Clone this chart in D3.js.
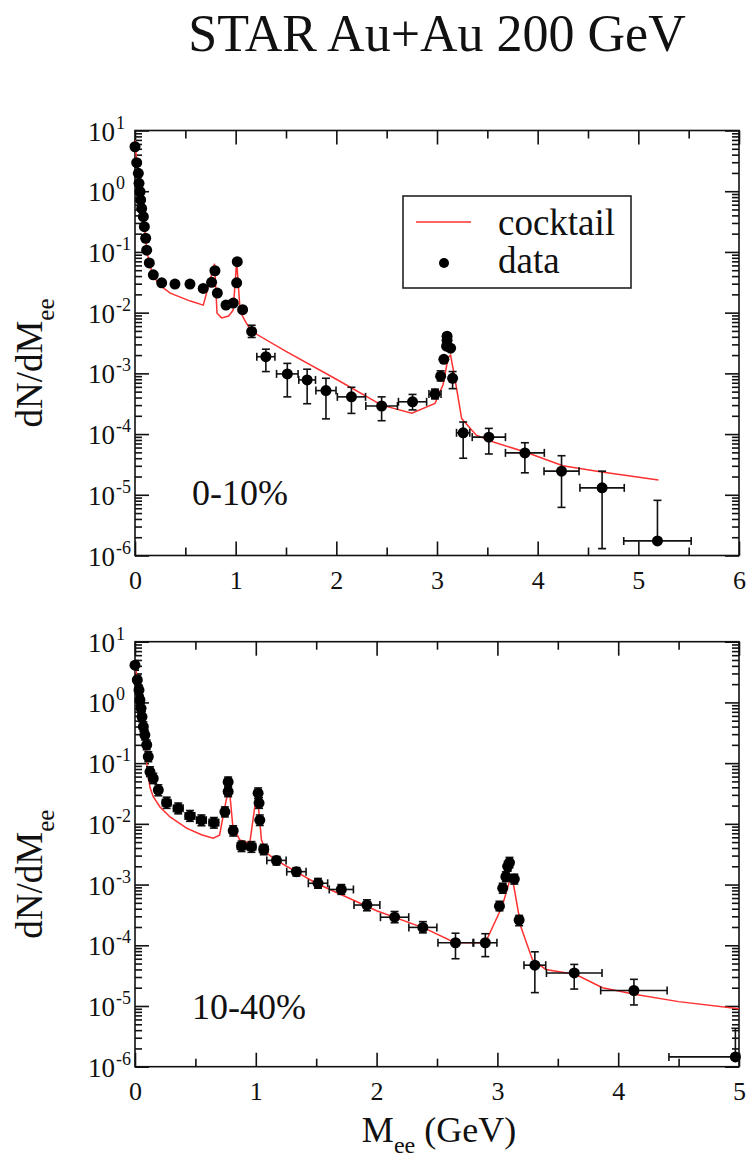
<!DOCTYPE html>
<html>
<head>
<meta charset="utf-8">
<script src="https://cdn.jsdelivr.net/npm/d3@7"></script>
<style>
  html, body { margin: 0; padding: 0; background: #fff; }
  svg { display: block; }
  text { font-family: "Liberation Serif", "Times New Roman", serif; fill: #111; }
</style>
</head>
<body>
<svg id="chart" width="752" height="1160"></svg>
<script>
// ---------------- DATA ----------------
const title = "STAR Au+Au 200 GeV";
const panelLabels = ["0-10%", "10-40%"];
const legendLabels = ["cocktail", "data"];
const yTickValues = [1e-6, 1e-5, 1e-4, 1e-3, 1e-2, 1e-1, 1, 10];
const yTickExponents = ["-6", "-5", "-4", "-3", "-2", "-1", "0", "1"];
const xTicksTop = [0, 1, 2, 3, 4, 5, 6];
const xTicksBottom = [0, 1, 2, 3, 4, 5];

// 0-10% data
const massTop = [0, 0.017, 0.033, 0.04, 0.05, 0.056, 0.066, 0.083, 0.093, 0.106, 0.116, 0.142, 0.182, 0.265, 0.397, 0.546, 0.678, 0.761, 0.794, 0.818, 0.904, 0.976, 1.01, 1.016, 1.069, 1.159, 1.30, 1.513, 1.71, 1.897, 2.15, 2.45, 2.757, 2.98, 3.036, 3.068, 3.095, 3.1, 3.1, 3.135, 3.155, 3.26, 3.515, 3.873, 4.237, 4.64, 5.19];
const yieldTop = [5.4, 2.95, 1.97, 1.35, 0.98, 0.72, 0.52, 0.38, 0.26, 0.168, 0.107, 0.066, 0.042, 0.031, 0.0295, 0.0295, 0.025, 0.0316, 0.049, 0.021, 0.0133, 0.0144, 0.031, 0.069, 0.0112, 0.0049, 0.00188, 0.00098, 0.00078, 0.00052, 0.00041, 0.00029, 0.00034, 0.000455, 0.0009, 0.0017, 0.0028, 0.0035, 0.0041, 0.0026, 0.00083, 0.000105, 0.000089, 0.000049, 0.0000245, 0.000013, 0.00000174];
const xErrTop = [0, 0, 0, 0, 0, 0, 0, 0, 0, 0, 0, 0, 0, 0, 0, 0, 0, 0, 0, 0, 0, 0, 0, 0, 0, 0, 0.09, 0.107, 0.083, 0.1, 0.14, 0.157, 0.14, 0.06, 0, 0, 0, 0, 0, 0, 0, 0.066, 0.165, 0.193, 0.174, 0.22, 0.335];
const yLowTop = [5.4, 2.95, 1.97, 1.35, 0.98, 0.72, 0.52, 0.38, 0.26, 0.168, 0.107, 0.066, 0.042, 0.031, 0.0295, 0.0295, 0.025, 0.0316, 0.049, 0.021, 0.0133, 0.0144, 0.031, 0.069, 0.0112, 0.0039, 0.00107, 0.00041, 0.000316, 0.000178, 0.000219, 0.000166, 0.00025, 0.00038, 0.00075, 0.0017, 0.0028, 0.0035, 0.0041, 0.0026, 0.00056, 0.00004, 0.000047, 0.000023, 0.0000062, 0.0000013, 0.00000174];
const yHighTop = [5.4, 2.95, 1.97, 1.35, 0.98, 0.72, 0.52, 0.38, 0.26, 0.168, 0.107, 0.066, 0.042, 0.031, 0.0295, 0.0295, 0.025, 0.0316, 0.049, 0.021, 0.0133, 0.0144, 0.031, 0.069, 0.0112, 0.0062, 0.0025, 0.00146, 0.00117, 0.00083, 0.00059, 0.00041, 0.00045, 0.00055, 0.0011, 0.0017, 0.0028, 0.0035, 0.0041, 0.0026, 0.00107, 0.000158, 0.000124, 0.000072, 0.000044, 0.0000245, 0.0000081];
const cocktailMassTop = [0, 0.017, 0.033, 0.05, 0.066, 0.083, 0.1, 0.116, 0.142, 0.182, 0.25, 0.35, 0.45, 0.55, 0.678, 0.79, 0.815, 0.86, 0.93, 0.975, 1.01, 1.045, 1.1, 1.16, 1.5, 2.0, 2.45, 2.75, 2.98, 3.06, 3.11, 3.135, 3.18, 3.245, 3.39, 3.56, 3.87, 4.25, 4.62, 5.2];
const cocktailTop = [7, 3, 1.9, 0.95, 0.5, 0.33, 0.2, 0.11, 0.065, 0.04, 0.028, 0.021, 0.018, 0.0155, 0.0133, 0.064, 0.0098, 0.0082, 0.0088, 0.011, 0.07, 0.0104, 0.007, 0.0049, 0.0023, 0.0008, 0.0003, 0.00022, 0.00032, 0.00065, 0.0018, 0.002, 0.00078, 0.00018, 0.000096, 0.000074, 0.000051, 0.00003, 0.000024, 0.0000175];

// 10-40% data
const massBottom = [0, 0.019, 0.033, 0.041, 0.05, 0.058, 0.069, 0.082, 0.097, 0.11, 0.124, 0.151, 0.193, 0.262, 0.358, 0.455, 0.55, 0.653, 0.744, 0.771, 0.771, 0.813, 0.882, 0.964, 1.019, 1.027, 1.033, 1.066, 1.171, 1.336, 1.515, 1.708, 1.92, 2.149, 2.383, 2.653, 2.9, 3.017, 3.044, 3.07, 3.085, 3.1, 3.14, 3.18, 3.31, 3.636, 4.13, 4.97];
const yieldBottom = [4.1, 2.34, 1.6, 1.1, 0.8, 0.58, 0.4, 0.29, 0.2, 0.128, 0.072, 0.056, 0.036, 0.0223, 0.018, 0.0135, 0.0115, 0.0105, 0.0158, 0.034, 0.049, 0.0077, 0.0043, 0.0042, 0.032, 0.022, 0.0115, 0.0038, 0.0025, 0.00163, 0.00105, 0.00083, 0.00046, 0.00029, 0.000197, 0.00011, 0.00011, 0.00044, 0.00087, 0.00135, 0.002, 0.0023, 0.00123, 0.00026, 0.000047, 0.000035, 0.000018, 0.00000145];
const xErrBottom = [0.01, 0.01, 0.01, 0.01, 0.01, 0.01, 0.01, 0.012, 0.012, 0.012, 0.015, 0.02, 0.025, 0.035, 0.04, 0.04, 0.04, 0.04, 0.02, 0.02, 0.02, 0.02, 0.035, 0.035, 0.02, 0.02, 0.02, 0.035, 0.08, 0.08, 0.08, 0.1, 0.107, 0.117, 0.116, 0.145, 0.096, 0.02, 0.02, 0.02, 0.02, 0.02, 0.02, 0.02, 0.09, 0.23, 0.275, 0.55];
const yLowBottom = [3.4, 1.95, 1.33, 0.92, 0.67, 0.48, 0.33, 0.24, 0.166, 0.106, 0.06, 0.046, 0.029, 0.018, 0.0146, 0.011, 0.0093, 0.0085, 0.013, 0.028, 0.04, 0.0063, 0.0035, 0.0034, 0.026, 0.018, 0.0094, 0.0031, 0.0021, 0.00138, 0.00087, 0.00069, 0.00037, 0.000235, 0.00016, 0.00006, 0.000065, 0.00037, 0.00072, 0.00112, 0.00166, 0.0019, 0.00102, 0.00021, 0.0000166, 0.000019, 0.0000104, 0.00000145];
const yHighBottom = [4.9, 2.8, 1.92, 1.32, 0.96, 0.7, 0.48, 0.35, 0.24, 0.154, 0.087, 0.068, 0.044, 0.0275, 0.022, 0.0166, 0.014, 0.0127, 0.019, 0.041, 0.059, 0.0093, 0.0052, 0.0051, 0.039, 0.027, 0.014, 0.0046, 0.0029, 0.0019, 0.00126, 0.001, 0.00056, 0.00036, 0.000245, 0.000158, 0.000155, 0.00053, 0.00105, 0.00162, 0.0024, 0.0028, 0.00148, 0.00031, 0.000078, 0.0000484, 0.0000275, 0.0000043];
const cocktailMassBottom = [0, 0.02, 0.04, 0.06, 0.08, 0.097, 0.11, 0.124, 0.151, 0.207, 0.29, 0.427, 0.55, 0.647, 0.7, 0.752, 0.78, 0.81, 0.868, 0.95, 1.01, 1.047, 1.09, 1.171, 1.5, 2.0, 2.4, 2.65, 2.9, 3.04, 3.085, 3.11, 3.13, 3.195, 3.29, 3.4, 3.65, 3.87, 4.146, 4.5, 5.0];
const cocktailBottom = [4.5, 2.3, 1.2, 0.6, 0.3, 0.1, 0.06, 0.04, 0.028, 0.019, 0.013, 0.0085, 0.0066, 0.0058, 0.0065, 0.023, 0.04, 0.009, 0.0054, 0.0048, 0.035, 0.0054, 0.0033, 0.0025, 0.00105, 0.00037, 0.00019, 0.00011, 0.00011, 0.00044, 0.0009, 0.0013, 0.0011, 0.0002, 0.000058, 0.00004, 0.000033, 0.00002, 0.0000155, 0.0000118, 0.000009];

// ---------------- DRAW ----------------
const svg = d3.select("#chart");
const RED = "#ff3030";
const FONT = "Liberation Serif";

svg.append("text")
  .attr("x", 437).attr("y", 51)
  .attr("text-anchor", "middle")
  .style("font-size", "52px")
  .text(title);

function zip(xs, ys, xe, lo, hi) {
  return xs.map((x, i) => ({ x, y: ys[i], xe: xe ? xe[i] : 0, lo: lo ? lo[i] : ys[i], hi: hi ? hi[i] : ys[i] }));
}

function drawPanel(opt) {
  const { left, right, top, bottom, xMax, xTicks, data, cocktail, label, labelPos, legend, xTitle } = opt;
  const x = d3.scaleLinear().domain([0, xMax]).range([left, right]);
  const y = d3.scaleLog().domain([1e-6, 10]).range([bottom, top]);
  const g = svg.append("g");

  const minorX = d3.range(0.5, xMax, 1);
  const minorY = y.ticks().filter(v => !yTickValues.some(t => Math.abs(t - v) / t < 1e-9));

  const styleAxis = sel => {
    sel.select(".domain").remove();
    sel.selectAll(".tick line").attr("stroke", "#111").attr("stroke-width", 1.6);
  };

  // x axes (bottom with labels, top mirror)
  g.append("g").attr("transform", `translate(0,${bottom})`)
    .call(d3.axisBottom(x).tickValues(xTicks).tickSize(-14).tickPadding(15).tickFormat(d3.format("d")))
    .call(styleAxis)
    .call(s => s.selectAll("text").style("font-family", FONT).style("font-size", "26px").attr("fill", "#111"));
  g.append("g").attr("transform", `translate(0,${bottom})`)
    .call(d3.axisBottom(x).tickValues(minorX).tickSize(-8).tickFormat(""))
    .call(styleAxis);
  g.append("g").attr("transform", `translate(0,${top})`)
    .call(d3.axisTop(x).tickValues(xTicks).tickSize(-14).tickFormat(""))
    .call(styleAxis);
  g.append("g").attr("transform", `translate(0,${top})`)
    .call(d3.axisTop(x).tickValues(minorX).tickSize(-8).tickFormat(""))
    .call(styleAxis);

  // y axes (left, right mirror)
  g.append("g").attr("transform", `translate(${left},0)`)
    .call(d3.axisLeft(y).tickValues(yTickValues).tickSize(-14).tickFormat(""))
    .call(styleAxis);
  g.append("g").attr("transform", `translate(${left},0)`)
    .call(d3.axisLeft(y).tickValues(minorY).tickSize(-7).tickFormat(""))
    .call(styleAxis);
  g.append("g").attr("transform", `translate(${right},0)`)
    .call(d3.axisRight(y).tickValues(yTickValues).tickSize(-14).tickFormat(""))
    .call(styleAxis);
  g.append("g").attr("transform", `translate(${right},0)`)
    .call(d3.axisRight(y).tickValues(minorY).tickSize(-7).tickFormat(""))
    .call(styleAxis);

  // y tick labels 10^n
  const yl = g.append("g");
  yTickValues.forEach((v, i) => {
    yl.append("text").attr("x", left - 20).attr("y", y(v) + 10)
      .attr("text-anchor", "end").style("font-size", "27px").text("10");
    yl.append("text").attr("x", left - 19).attr("y", y(v) - 2)
      .attr("text-anchor", "start").style("font-size", "18px").text(yTickExponents[i]);
  });

  // frame
  g.append("rect").attr("x", left).attr("y", top)
    .attr("width", right - left).attr("height", bottom - top)
    .attr("fill", "none").attr("stroke", "#111").attr("stroke-width", 1.6);

  // y title
  const yt = g.append("text")
    .attr("transform", `translate(42,${(top + bottom) / 2 + 20}) rotate(-90)`)
    .attr("text-anchor", "middle").style("font-size", "37px");
  yt.append("tspan").text("dN/dM");
  yt.append("tspan").attr("dy", 12).style("font-size", "25px").text("ee");

  // cocktail line
  const clipId = "clip" + Math.round(top);
  svg.append("clipPath").attr("id", clipId).append("rect")
    .attr("x", left).attr("y", top).attr("width", right - left).attr("height", bottom - top);
  g.append("path")
    .datum(cocktail)
    .attr("clip-path", `url(#${clipId})`)
    .attr("fill", "none").attr("stroke", RED).attr("stroke-width", 1.5)
    .attr("d", d3.line().x(d => x(d.x)).y(d => y(d.y)));

  // error bars
  const eg = g.append("g").attr("clip-path", `url(#${clipId})`)
    .attr("stroke", "#111").attr("stroke-width", 1.6).attr("fill", "none");
  const cap = 4;
  data.forEach(d => {
    const cx = x(d.x), cy = y(d.y);
    if (d.xe > 0) {
      const x0 = x(Math.max(0, d.x - d.xe)), x1 = x(d.x + d.xe);
      eg.append("line").attr("x1", x0).attr("x2", x1).attr("y1", cy).attr("y2", cy);
      eg.append("line").attr("x1", x0).attr("x2", x0).attr("y1", cy - cap).attr("y2", cy + cap);
      eg.append("line").attr("x1", x1).attr("x2", x1).attr("y1", cy - cap).attr("y2", cy + cap);
    }
    if (d.hi > d.y || d.lo < d.y) {
      const y0 = y(d.lo), y1 = y(d.hi);
      eg.append("line").attr("x1", cx).attr("x2", cx).attr("y1", y0).attr("y2", y1);
      if (d.hi > d.y) eg.append("line").attr("x1", cx - cap).attr("x2", cx + cap).attr("y1", y1).attr("y2", y1);
      if (d.lo < d.y) eg.append("line").attr("x1", cx - cap).attr("x2", cx + cap).attr("y1", y0).attr("y2", y0);
    }
  });

  // points
  g.append("g").selectAll("circle").data(data).join("circle")
    .attr("cx", d => x(d.x)).attr("cy", d => y(d.y)).attr("r", 5.5).attr("fill", "#000");

  // panel label
  g.append("text").attr("x", labelPos[0]).attr("y", labelPos[1])
    .style("font-size", "36px").text(label);

  if (legend) {
    g.append("rect").attr("x", 403).attr("y", 196).attr("width", 228).attr("height", 92)
      .attr("fill", "#fff").attr("stroke", "#222").attr("stroke-width", 1.6);
    g.append("line").attr("x1", 416).attr("x2", 471).attr("y1", 222).attr("y2", 222)
      .attr("stroke", RED).attr("stroke-width", 1.6);
    g.append("text").attr("x", 498).attr("y", 235).style("font-size", "37px").text(legendLabels[0]);
    g.append("circle").attr("cx", 444).attr("cy", 263).attr("r", 5).attr("fill", "#000");
    g.append("text").attr("x", 498).attr("y", 273).style("font-size", "37px").text(legendLabels[1]);
  }

  if (xTitle) {
    const xt = g.append("text").attr("x", 439).attr("y", 1142)
      .attr("text-anchor", "middle").style("font-size", "36px");
    xt.append("tspan").text("M");
    xt.append("tspan").attr("dy", 11).style("font-size", "24px").text("ee");
    xt.append("tspan").attr("dy", -11).text(" (GeV)");
  }
}

drawPanel({
  left: 135, right: 739, top: 130.5, bottom: 555.5, xMax: 6, xTicks: xTicksTop,
  data: zip(massTop, yieldTop, xErrTop, yLowTop, yHighTop),
  cocktail: zip(cocktailMassTop, cocktailTop),
  label: panelLabels[0], labelPos: [192, 505], legend: true, xTitle: false
});
drawPanel({
  left: 135, right: 739, top: 641.7, bottom: 1066.7, xMax: 5, xTicks: xTicksBottom,
  data: zip(massBottom, yieldBottom, xErrBottom, yLowBottom, yHighBottom),
  cocktail: zip(cocktailMassBottom, cocktailBottom),
  label: panelLabels[1], labelPos: [192, 1019], legend: false, xTitle: true
});
</script>
</body>
</html>
